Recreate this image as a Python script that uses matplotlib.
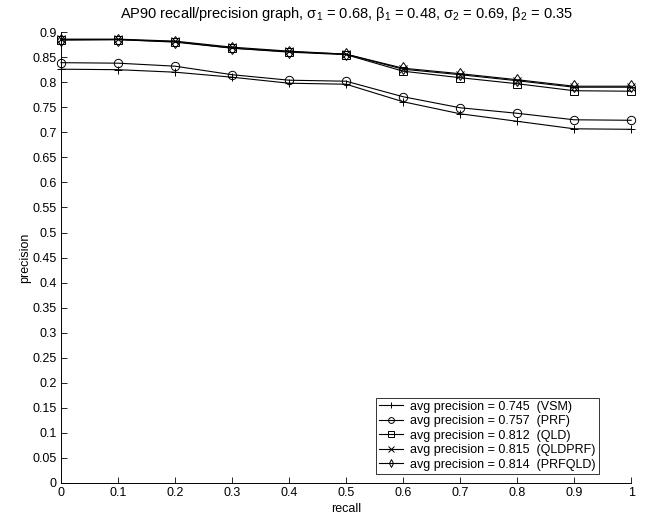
import matplotlib
matplotlib.use("Agg")
import matplotlib.pyplot as plt
import numpy as np

plt.rcParams["font.family"] = ["Liberation Sans", "DejaVu Sans"]

recall = [0.0, 0.1, 0.2, 0.3, 0.4, 0.5, 0.6, 0.7, 0.8, 0.9, 1.0]

vsm = [0.826, 0.825, 0.820, 0.810, 0.798, 0.796, 0.761, 0.737, 0.722, 0.707, 0.706]
prf = [0.839, 0.838, 0.832, 0.815, 0.804, 0.802, 0.771, 0.749, 0.738, 0.725, 0.724]
qld = [0.885, 0.885, 0.881, 0.868, 0.860, 0.855, 0.822, 0.809, 0.797, 0.783, 0.782]
qldprf = [0.886, 0.886, 0.882, 0.870, 0.862, 0.856, 0.826, 0.815, 0.803, 0.790, 0.790]
prfqld = [0.884, 0.885, 0.880, 0.868, 0.861, 0.856, 0.828, 0.817, 0.805, 0.792, 0.792]

series = [
    (vsm, "+", "avg precision = 0.745  (VSM)"),
    (prf, "o", "avg precision = 0.757  (PRF)"),
    (qld, "s", "avg precision = 0.812  (QLD)"),
    (qldprf, "x", "avg precision = 0.815  (QLDPRF)"),
    (prfqld, "d", "avg precision = 0.814  (PRFQLD)"),
]

fig = plt.figure(figsize=(6.54, 5.18), dpi=100)
ax = fig.add_axes([0.0933, 0.0676, 0.8717, 0.8704])

for vals, mk, lab in series:
    ax.plot(recall, vals, color="black", lw=0.8, marker=mk, ms=6,
            mfc="none", mec="black", mew=0.7, label=lab, clip_on=False)

ax.set_xlim(0, 1)
ax.set_ylim(0, 0.9)
ax.set_xticks(np.round(np.arange(0, 1.01, 0.1), 1))
ax.set_xticklabels(["0", "0.1", "0.2", "0.3", "0.4", "0.5", "0.6", "0.7", "0.8", "0.9", "1"])
yt = np.round(np.arange(0, 0.901, 0.05), 2)
ax.set_yticks(yt)
ax.set_yticklabels(["0"] + [f"{v:g}" for v in yt[1:]])
ax.tick_params(direction="in", length=4, width=0.6, labelsize=9, pad=3)
for s in ("top", "right"):
    ax.spines[s].set_visible(False)
for s in ("left", "bottom"):
    ax.spines[s].set_linewidth(0.7)

ax.set_xlabel("recall", fontsize=9, labelpad=3)
ax.set_ylabel("precision", fontsize=9, labelpad=1)
ax.set_title(r"AP90 recall/precision graph, $\mathregular{σ_1}$ = 0.68, $\mathregular{β_1}$ = 0.48, "
             r"$\mathregular{σ_2}$ = 0.69, $\mathregular{β_2}$ = 0.35", fontsize=10.5, pad=10)

leg = ax.legend(loc="lower right", bbox_to_anchor=(0.95, 0.012), fontsize=9,
                frameon=True, fancybox=False, edgecolor="black", handlelength=1.9,
                borderpad=0.25, labelspacing=0.2, handletextpad=0.6,
                markerscale=0.7, borderaxespad=0.3)
leg.get_frame().set_linewidth(0.7)

fig.savefig("out.png", dpi=100)
